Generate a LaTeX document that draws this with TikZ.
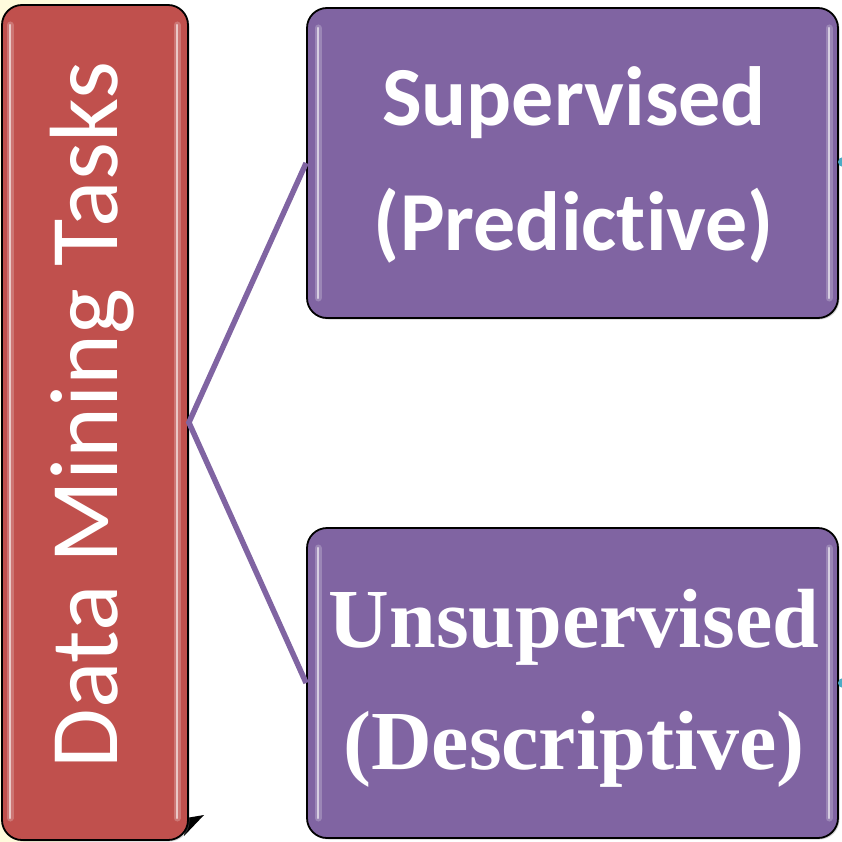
\documentclass[tikz,border=0pt]{standalone}
\usepackage{fontspec}
\setmainfont{Liberation Serif}[Ligatures=NoCommon]
\newfontfamily\calibri{Carlito}[Ligatures=NoCommon]
\usetikzlibrary{shadows}
\definecolor{dmred}{HTML}{C0504D}
\definecolor{dmpurple}{HTML}{8064A2}
\definecolor{dmcyan}{HTML}{4BACC6}
\definecolor{dmyellow}{HTML}{FFFBDC}
\tikzset{
  glossbox/.style={draw=black, line width=1.8pt, rounded corners=20pt,
    drop shadow={shadow xshift=1.5pt, shadow yshift=-1.5pt, opacity=0.35}},
  redbox/.style={glossbox, fill=dmred, minimum width=186pt, minimum height=835pt},
  purplebox/.style={glossbox, fill=dmpurple, minimum width=531pt, minimum height=310pt},
  shinewide/.style={white, line width=7pt, opacity=0.22, line cap=round},
  shine/.style={white, line width=2.2pt, opacity=0.6, line cap=round},
  conn/.style={dmpurple, line width=5.5pt, line join=miter},
  toptext/.style={text=white, align=center, font=\calibri\bfseries\fontsize{84}{125}\selectfont},
  bottext/.style={text=white, align=center, font=\bfseries\fontsize{84}{122}\selectfont},
  sidetext/.style={text=white, font=\calibri\fontsize{97}{110}\selectfont}
}
\begin{document}
\begin{tikzpicture}[x=1pt,y=-1pt]
\useasboundingbox (0,0) rectangle (841,842);
\fill[dmyellow] (0,0) rectangle (80,842);
% black wedge
\fill[black] (186,818) -- (204,815) -- (184,836) -- cycle;
% boxes
\node[redbox] (dm) at (95,422.5) {};
\node[purplebox] (sup) at (572.5,163) {};
\node[purplebox] (uns) at (572.5,683) {};
% highlights
\foreach \xx/\ya/\yb in {10/25/818, 177/25/818, 318/28/298, 829/28/298, 318/548/818, 829/548/818}{
  \draw[shinewide] (\xx,\ya) -- (\xx,\yb);
  \draw[shine] (\xx,\ya) -- (\xx,\yb);
}
% cyan marks
\fill[dmcyan] (843,162) circle (5pt);
\fill[dmcyan] (843,683) circle (5pt);
% connectors
\draw[conn] (sup.west) -- (dm.east) -- (uns.west);
% texts
\node[sidetext, rotate=90] (dmt) at (92,415) {Data Mining Tasks};
\node[toptext] (supt) at (574,165) {Supervised\\(Predictive)};
\node[bottext] (unst) at (574,688) {Unsupervised\\(Descriptive)};
\end{tikzpicture}
\end{document}
